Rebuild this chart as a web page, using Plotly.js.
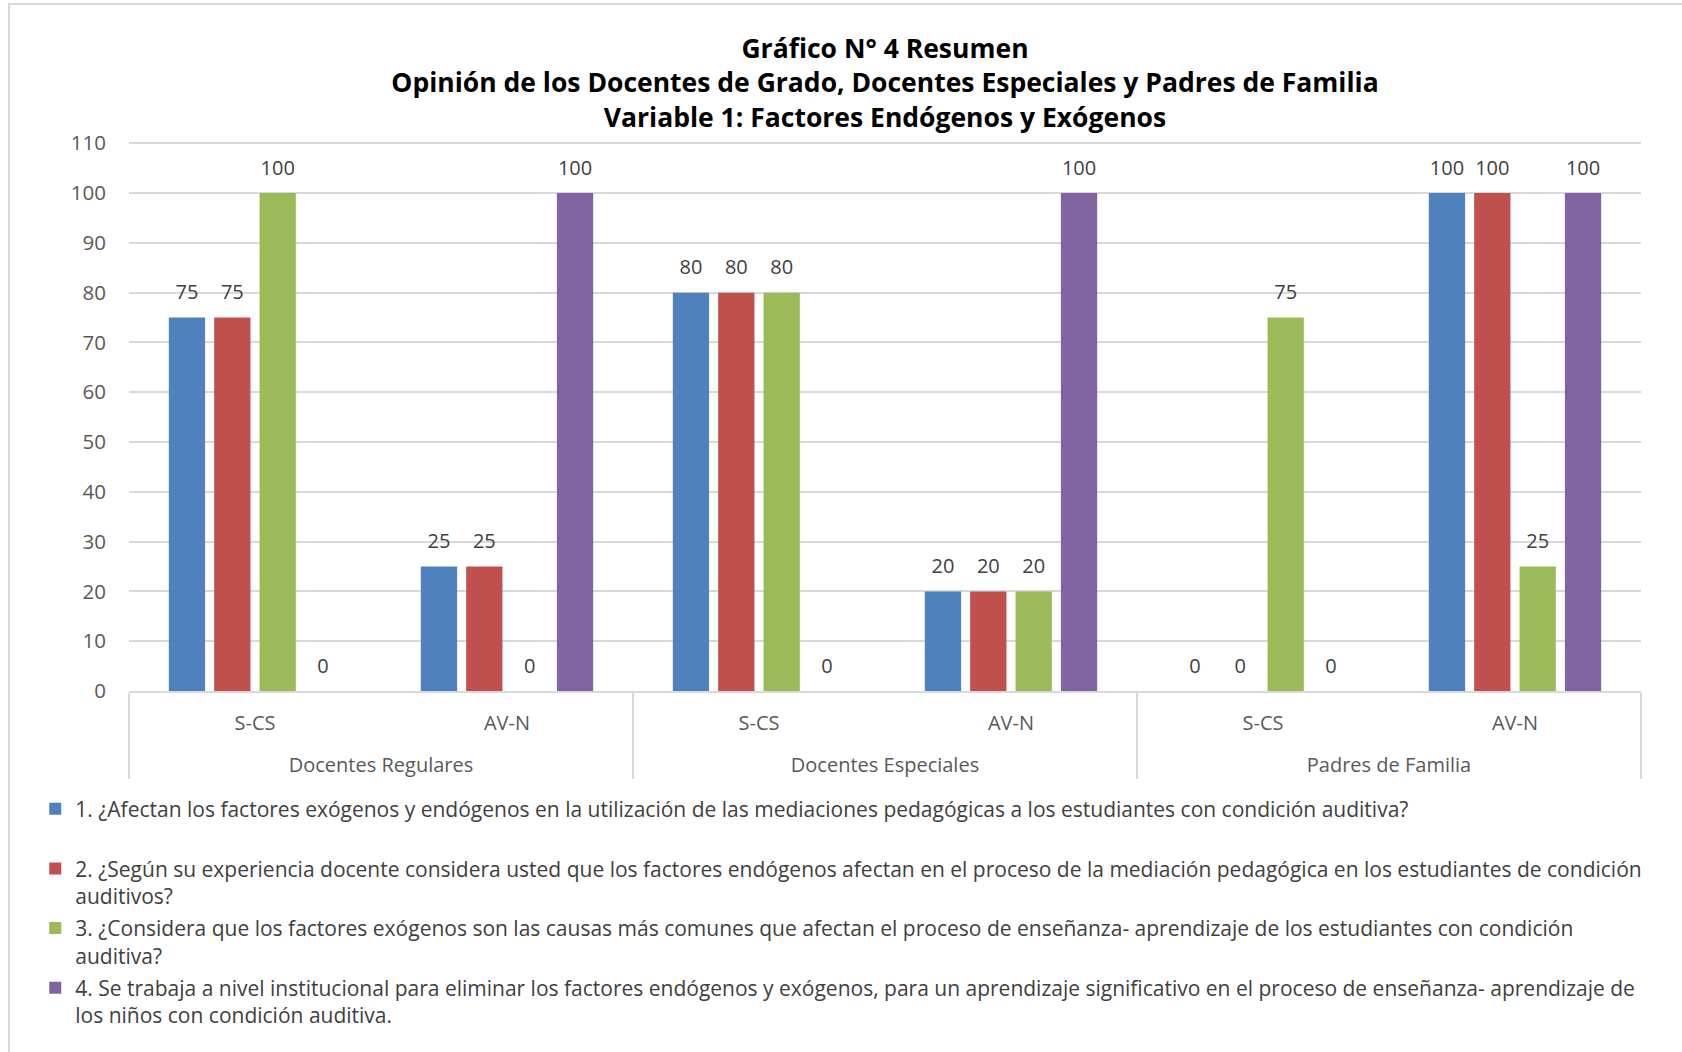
<!DOCTYPE html>
<html>
<head>
<meta charset="utf-8">
<script src="https://cdn.plot.ly/plotly-3.0.1.min.js"></script>
<style>
html, body { margin: 0; padding: 0; background: #ffffff; }
#frame { position: absolute; left: 8px; top: 3px; width: 1680px; height: 1060px; border-left: 2px solid #d9d9d9; border-top: 2px solid #d9d9d9; box-sizing: border-box; pointer-events: none; }
#chart { position: absolute; left: 0; top: 0; width: 1682px; height: 1052px; }
</style>
</head>
<body>
<div id="chart"></div>
<div id="frame"></div>
<script>
const groups = ["Docentes Regulares", "Docentes Regulares", "Docentes Especiales", "Docentes Especiales", "Padres de Familia", "Padres de Familia"];
const subcategories = ["S-CS", "AV-N", "S-CS", "AV-N", "S-CS", "AV-N"];

const seriesNames = [
  "1. ¿Afectan los factores exógenos y endógenos en la utilización de las mediaciones pedagógicas a los estudiantes con condición auditiva?<br>&nbsp;",
  "2. ¿Según su experiencia docente considera usted que los factores endógenos afectan en el proceso de la mediación pedagógica en los estudiantes de condición<br>auditivos?",
  "3. ¿Considera que los factores exógenos son las causas más comunes que afectan el proceso de enseñanza- aprendizaje de los estudiantes con condición<br>auditiva?",
  "4. Se trabaja a nivel institucional para eliminar los factores endógenos y exógenos, para un aprendizaje significativo en el proceso de enseñanza- aprendizaje de<br>los niños con condición auditiva."
];

const pregunta1 = [75, 25, 80, 20, 0, 100];
const pregunta2 = [75, 25, 80, 20, 0, 100];
const pregunta3 = [100, 0, 80, 20, 75, 25];
const pregunta4 = [0, 100, 0, 100, 0, 100];

const yTicks = [0, 10, 20, 30, 40, 50, 60, 70, 80, 90, 100, 110];

const colors = ["#4F81BD", "#C0504D", "#9BBB59", "#8064A2"];
const seriesValues = [pregunta1, pregunta2, pregunta3, pregunta4];

const FONT = "Open Sans, Noto Sans, sans-serif";

// inner labels get an invisible second line so the group labels sit lower, as in the original
const innerLabels = subcategories.map(s => s + "<br>&nbsp;");
const xCats = [groups, innerLabels];

const barTraces = seriesValues.map((vals, i) => ({
  type: "bar",
  name: seriesNames[i],
  legendgroup: "g" + i,
  x: xCats,
  y: vals,
  marker: { color: colors[i], line: { width: 0 } },
  hoverinfo: "y"
}));

const labelTraces = seriesValues.map((vals, i) => ({
  type: "scatter",
  mode: "markers+text",
  showlegend: false,
  legendgroup: "g" + i,
  x: xCats,
  y: vals,
  text: vals.map(v => String(v)),
  textposition: "top center",
  marker: { size: 20, opacity: 0, color: colors[i] },
  textfont: { family: FONT, size: 20, color: "#404040" },
  cliponaxis: false,
  hoverinfo: "skip"
}));

const layout = {
  width: 1682,
  height: 1052,
  paper_bgcolor: "#ffffff",
  plot_bgcolor: "#ffffff",
  margin: { l: 129, r: 41, t: 142, b: 361 },
  title: {
    text: "Gráfico N° 4 Resumen<br>Opinión de los Docentes de Grado, Docentes Especiales y Padres de Familia<br>Variable 1: Factores Endógenos y Exógenos",
    font: { family: FONT, size: 26.5, color: "#000000", weight: "bold" },
    x: 0.5,
    xref: "paper",
    xanchor: "center",
    y: 0.945,
    yref: "container",
    yanchor: "middle"
  },
  barmode: "group",
  bargap: 0.28,
  bargroupgap: 0.2,
  scattermode: "group",
  scattergap: 0.28,
  showlegend: true,
  legend: {
    orientation: "v",
    x: -0.062,
    xanchor: "left",
    y: -0.178,
    yanchor: "top",
    traceorder: "grouped",
    tracegroupgap: 2,
    valign: "top",
    itemwidth: 30,
    font: { family: FONT, size: 21, color: "#404040" },
    bgcolor: "rgba(0,0,0,0)"
  },
  xaxis: {
    type: "multicategory",
    showgrid: false,
    showline: true,
    linecolor: "#d9d9d9",
    linewidth: 2,
    ticks: "",
    ticklabelstandoff: 13,
    showdividers: true,
    dividercolor: "#d9d9d9",
    dividerwidth: 2,
    tickfont: { family: FONT, size: 20, color: "#595959" }
  },
  yaxis: {
    range: [0, 110.25],
    tickmode: "array",
    tickvals: yTicks,
    ticktext: yTicks.map(String),
    showgrid: true,
    gridcolor: "#d9d9d9",
    gridwidth: 2,
    zeroline: false,
    showline: false,
    ticks: "",
    ticklabelstandoff: 22,
    tickfont: { family: FONT, size: 20.5, color: "#595959" }
  }
};

Plotly.newPlot("chart", barTraces.concat(labelTraces), layout, { displayModeBar: false, responsive: false });
</script>
</body>
</html>
